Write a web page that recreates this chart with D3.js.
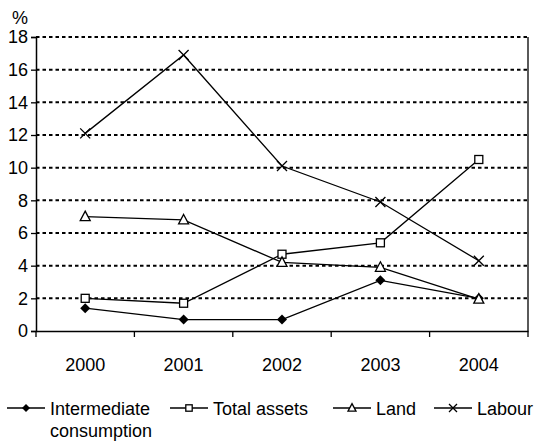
<!DOCTYPE html>
<html>
<head>
<meta charset="utf-8">
<script src="https://cdn.jsdelivr.net/npm/d3@7"></script>
<style>
  body { margin: 0; background: #fff; }
  svg { display: block; font-family: "Liberation Sans", Arial, sans-serif; }
</style>
</head>
<body>
<div id="chart"></div>
<script>
// data
const years = ["2000", "2001", "2002", "2003", "2004"];
const intermediate = [1.4, 0.7, 0.7, 3.1, 2.0];
const totalAssets = [2.0, 1.7, 4.7, 5.4, 10.5];
const land = [7.0, 6.8, 4.2, 3.9, 1.95];
const labour = [12.1, 16.9, 10.1, 7.9, 4.3];
const yTicks = [0, 2, 4, 6, 8, 10, 12, 14, 16, 18];
const seriesNames = ["Intermediate", "Total assets", "Land", "Labour"];

const series = [
    {name: seriesNames[0], values: intermediate, marker: "diamond"},
    {name: seriesNames[1], values: totalAssets, marker: "square"},
    {name: seriesNames[2], values: land, marker: "triangle"},
    {name: seriesNames[3], values: labour, marker: "cross"}
];

const width = 534, height = 441;
const margin = {top: 37, right: 6, bottom: 110, left: 36};
const innerW = width - margin.left - margin.right;
const innerH = height - margin.top - margin.bottom;
const fontSize = 18;

const svg = d3.select("#chart").append("svg")
    .attr("width", width)
    .attr("height", height);

const g = svg.append("g")
    .attr("transform", "translate(" + margin.left + "," + margin.top + ")");

const x = d3.scaleBand().domain(years).range([0, innerW]);
const y = d3.scaleLinear().domain([0, 18]).range([innerH, 0]);

// right border
g.append("line")
    .attr("x1", innerW).attr("x2", innerW)
    .attr("y1", 0).attr("y2", innerH)
    .attr("stroke", "#000").attr("stroke-width", 1.3);

// dotted gridlines
g.selectAll(".grid").data(yTicks.filter(d => d > 0)).enter()
    .append("line")
    .attr("class", "grid")
    .attr("x1", 0).attr("x2", innerW)
    .attr("y1", d => y(d)).attr("y2", d => y(d))
    .attr("stroke", "#000")
    .attr("stroke-width", 2)
    .attr("stroke-dasharray", "3.5,3");

// axes
const yAxis = g.append("g")
    .call(d3.axisLeft(y).tickValues(yTicks).tickSize(5).tickPadding(3));
const xAxis = g.append("g")
    .attr("transform", "translate(0," + innerH + ")")
    .call(d3.axisBottom(x).tickSize(0).tickPadding(27));

[yAxis, xAxis].forEach(a => {
    a.select(".domain").attr("stroke", "#000").attr("stroke-width", 1.5);
    a.selectAll("text").attr("font-size", fontSize).attr("fill", "#000")
        .attr("font-family", "Liberation Sans, Arial, sans-serif");
    a.selectAll(".tick line").attr("stroke", "#000").attr("stroke-width", 1.3);
});

// category boundary ticks on x axis
g.selectAll(".xtick").data(years.concat(["end"])).enter()
    .append("line")
    .attr("x1", (d, i) => i * x.step()).attr("x2", (d, i) => i * x.step())
    .attr("y1", innerH).attr("y2", innerH + 6)
    .attr("stroke", "#000").attr("stroke-width", 1.3);

g.append("text")
    .attr("x", -16).attr("y", -13)
    .attr("text-anchor", "middle")
    .attr("font-size", fontSize)
    .text("%");

function drawMarker(sel, type, s) {
    s = s || 1;
    if (type === "diamond") {
        sel.append("path").attr("d", "M0,-5L5,0L0,5L-5,0Z").attr("fill", "#000")
            .attr("transform", "scale(" + s + ")");
    } else if (type === "square") {
        sel.append("rect").attr("x", -4 * s).attr("y", -4 * s).attr("width", 8 * s).attr("height", 8 * s)
            .attr("fill", "#fff").attr("stroke", "#000").attr("stroke-width", 1.3);
    } else if (type === "triangle") {
        sel.append("path").attr("d", "M0,-5.5L5,4L-5,4Z")
            .attr("transform", "scale(" + s + ")")
            .attr("fill", "#fff").attr("stroke", "#000").attr("stroke-width", 1.3 / s);
    } else {
        sel.append("path").attr("d", "M-5,-5L5,5M-5,5L5,-5")
            .attr("transform", "scale(" + s + ")")
            .attr("fill", "none").attr("stroke", "#000").attr("stroke-width", 1.3 / s);
    }
}

const line = d3.line()
    .x((d, i) => x(years[i]) + x.bandwidth() / 2)
    .y(d => y(d));

series.forEach(s => {
    g.append("path")
        .datum(s.values)
        .attr("fill", "none")
        .attr("stroke", "#000")
        .attr("stroke-width", 1.3)
        .attr("d", line);
    s.values.forEach((v, i) => {
        const m = g.append("g")
            .attr("transform", "translate(" + (x(years[i]) + x.bandwidth() / 2) + "," + y(v) + ")");
        drawMarker(m, s.marker);
    });
});

// legend
const legendX = [7, 170, 333, 434];
const legendY = 408;
series.forEach((s, i) => {
    const lg = svg.append("g").attr("transform", "translate(" + legendX[i] + "," + legendY + ")");
    lg.append("line").attr("x1", 0).attr("x2", 38).attr("y1", 0).attr("y2", 0)
        .attr("stroke", "#000").attr("stroke-width", 1.3);
    const m = lg.append("g").attr("transform", "translate(19,0)");
    drawMarker(m, s.marker, 0.8);
    lg.append("text")
        .attr("x", 43).attr("y", 6.5)
        .attr("font-size", fontSize)
        .text(s.name);
    if (i === 0) {
        lg.append("text").attr("x", 43).attr("y", 28.5)
            .attr("font-size", fontSize).text("consumption");
    }
});
</script>
</body>
</html>
